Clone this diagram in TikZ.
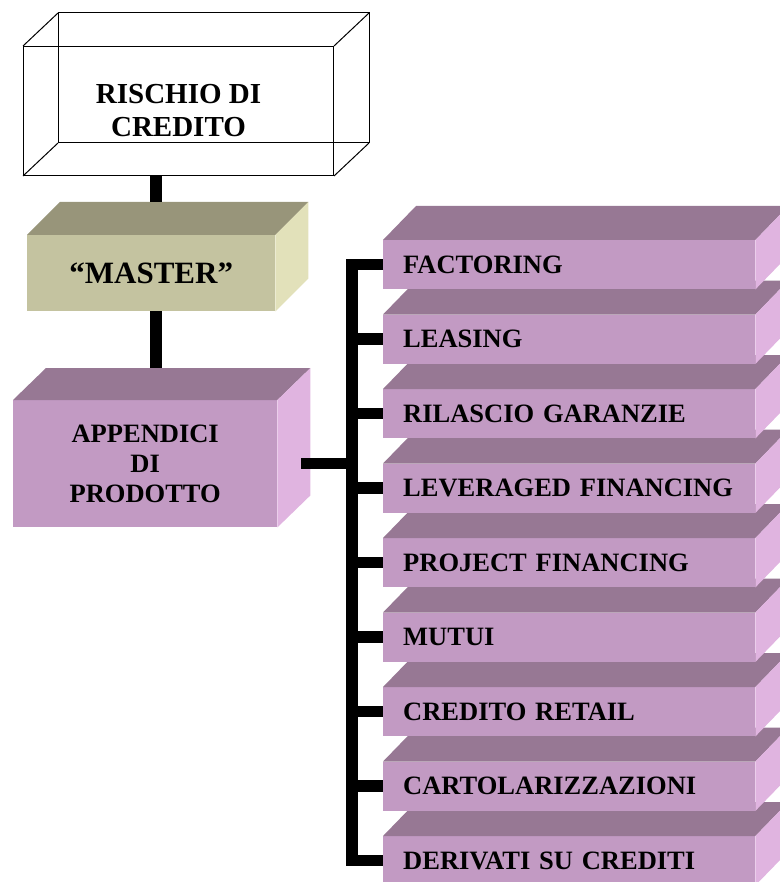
\documentclass[tikz,border=0pt]{standalone}
\usepackage{fontspec}
\setmainfont{Liberation Serif}
\usetikzlibrary{calc}
\definecolor{mauvetop}{RGB}{151,120,148}
\definecolor{mauvefront}{RGB}{194,154,195}
\definecolor{mauveside}{RGB}{224,180,224}
\definecolor{olivetop}{RGB}{152,149,122}
\definecolor{olivefront}{RGB}{196,195,160}
\definecolor{oliveside}{RGB}{226,225,186}
\tikzset{bar/.style={line width=11.5pt}, front/.style={inner sep=0pt, anchor=north west}}

\begin{document}
\begin{tikzpicture}[x=1pt, y=-1pt]
\useasboundingbox (0,0) rectangle (779,882);

% transparent box on top
\node[front, draw, line width=1pt, minimum width=310pt, minimum height=129pt, align=center, font=\bfseries\fontsize{29}{33}\selectfont] (risk) at (23,46) {RISCHIO DI\\CREDITO};
\draw[line width=1pt] ($(risk.north west)+(35,-33)$) rectangle ($(risk.south east)+(35,-33)$);
\foreach \a in {north west,north east,south west,south east}
  \draw[line width=1pt] (risk.\a) -- ++(35,-33);

% master
\node[front, fill=olivefront, minimum width=248pt, minimum height=76pt, font=\bfseries\fontsize{31}{34}\selectfont] (master) at (27,235) {``MASTER''};
\fill[olivetop] (master.north west) -- ++(33,-33) -- ($(master.north east)+(33,-33)$) -- (master.north east) -- cycle;
\fill[oliveside] (master.north east) -- ++(33,-33) -- ($(master.south east)+(33,-33)$) -- (master.south east) -- cycle;

% appendici
\node[front, fill=mauvefront, minimum width=264pt, minimum height=127pt, align=center, font=\bfseries\fontsize{26.5}{30}\selectfont] (app) at (13,400) {APPENDICI\\DI\\PRODOTTO};
\fill[mauvetop] (app.north west) -- ++(33,-32) -- ($(app.north east)+(33,-32)$) -- (app.north east) -- cycle;
\fill[mauveside] (app.north east) -- ++(33,-32) -- ($(app.south east)+(33,-32)$) -- (app.south east) -- cycle;

% products, lowest first
\foreach \i/\lab in {9/DERIVATI SU CREDITI,8/CARTOLARIZZAZIONI,7/CREDITO RETAIL,6/MUTUI,5/PROJECT FINANCING,4/LEVERAGED FINANCING,3/RILASCIO GARANZIE,2/LEASING,1/FACTORING}{
  \node[front, fill=mauvefront, minimum width=372pt, minimum height=49pt, text width=332pt, inner xsep=20pt, align=left, font=\bfseries\fontsize{26.5}{30}\selectfont] (r\i) at (383,{240+74.5*(\i-1)}) {\lab};
  \fill[mauvetop] (r\i.north west) -- ++(33,-34) -- ($(r\i.north east)+(33,-34)$) -- (r\i.north east) -- cycle;
  \fill[mauveside] (r\i.north east) -- ++(33,-34) -- ($(r\i.south east)+(33,-34)$) -- (r\i.south east) -- cycle;
}

% links
\coordinate (stem) at (156,0);
\coordinate (spine) at (352,0);
\draw[bar] (stem |- risk.south) -- ($(stem |- master.north)+(0,-33)$);
\draw[bar] (stem |- master.south) -- ($(stem |- app.north)+(0,-32)$);
\draw[bar] ([xshift=24pt]app.east) -- (spine |- app.east);
\draw[bar] (r1.west) -| (spine |- r9.west) -- (r9.west);
\foreach \i in {2,...,8}
  \draw[bar] (spine |- r\i.west) -- (r\i.west);
\end{tikzpicture}
\end{document}
